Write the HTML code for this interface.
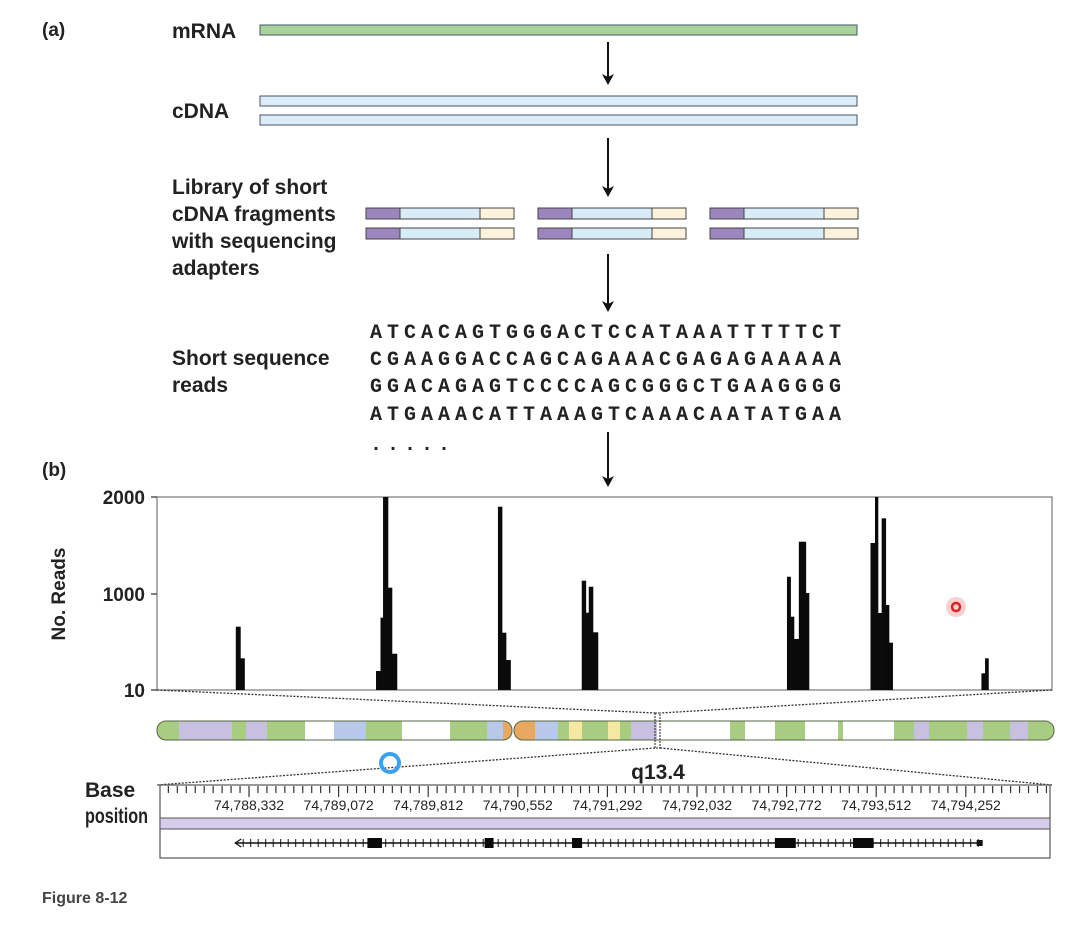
<!DOCTYPE html>
<html><head><meta charset="utf-8"><style>
body{margin:0;background:#fff;}
svg{display:block;font-family:"Liberation Sans",sans-serif;}
.lbl{font-weight:bold;font-size:19px;fill:#222;}
.big{font-size:21px;}
.seq{font-family:"Liberation Mono",monospace;font-weight:bold;font-size:20px;fill:#222;letter-spacing:5px;}
</style></head><body>
<svg id="fig" width="1076" height="928" viewBox="0 0 1076 928" xmlns="http://www.w3.org/2000/svg">
<g>
<text x="42" y="36" class="lbl">(a)</text>
<text x="172" y="38" class="lbl big">mRNA</text>
<rect x="260" y="25" width="597" height="10" fill="#a9d39b" stroke="#456" stroke-width="1"/>
<text x="172" y="118" class="lbl big">cDNA</text>
<rect x="260" y="96" width="597" height="10" fill="#dcecf8" stroke="#456"/>
<rect x="260" y="115" width="597" height="10" fill="#dcecf8" stroke="#456"/>
<g stroke="#111" stroke-width="2" fill="#111">
<line x1="608" y1="42" x2="608" y2="78"/><path d="M602,74 L608,85 L614,74 L608,77 Z" stroke="none"/>
<line x1="608" y1="138" x2="608" y2="190"/><path d="M602,186 L608,197 L614,186 L608,189 Z" stroke="none"/>
<line x1="608" y1="254" x2="608" y2="305"/><path d="M602,301 L608,312 L614,301 L608,304 Z" stroke="none"/>
<line x1="608" y1="432" x2="608" y2="480"/><path d="M602,476 L608,487 L614,476 L608,479 Z" stroke="none"/>
</g>
<text class="lbl big"><tspan x="172" y="194">Library of short</tspan><tspan x="172" y="221">cDNA fragments</tspan><tspan x="172" y="248">with sequencing</tspan><tspan x="172" y="275">adapters</tspan></text>
<g id="frags"></g>
<text class="lbl big"><tspan x="172" y="365">Short sequence</tspan><tspan x="172" y="392">reads</tspan></text>
<g class="seq">
<text x="370" y="338">ATCACAGTGGGACTCCATAAATTTTTCT</text>
<text x="370" y="365">CGAAGGACCAGCAGAAACGAGAGAAAAA</text>
<text x="370" y="392">GGACAGAGTCCCCAGCGGGCTGAAGGGG</text>
<text x="370" y="420">ATGAAACATTAAAGTCAAACAATATGAA</text>
<text x="370" y="450">.....</text>
</g>
</g>
<text x="42" y="476" class="lbl">(b)</text>
<g id="chart"></g>
<g id="chrom"></g>
<text x="658" y="779" text-anchor="middle" class="lbl big">q13.4</text>
<text class="lbl big"><tspan x="85" y="797">Base</tspan><tspan x="85" y="823" textLength="63" lengthAdjust="spacingAndGlyphs">position</tspan></text>
<g id="track"></g>
<circle cx="390" cy="763" r="9" fill="none" stroke="#3aa0f0" stroke-width="4"/>
<circle cx="956" cy="607" r="10" fill="#f5b0b0" opacity="0.6"/>
<circle cx="956" cy="607" r="4" fill="none" stroke="#e02020" stroke-width="2.5"/>
<text x="42" y="903" font-size="16" font-weight="bold" fill="#444">Figure 8-12</text>
</svg>
<script>
const NS="http://www.w3.org/2000/svg";
// chart data
const yTicks=[10,1000,2000];
const yTickLabels=["10","1000","2000"];
const barStart=[74788223,74788261,74789381,74789418,74789439,74789480,74789513,74790388,74790422,74790455,74791080,74791114,74791138,74791173,74792775,74792805,74792833,74792873,74792931,74793465,74793502,74793527,74793557,74793591,74793618,74794381,74794411];
const barEnd=[74788261,74788295,74789418,74789439,74789480,74789513,74789554,74790422,74790455,74790492,74791114,74791138,74791173,74791214,74792805,74792833,74792873,74792931,74792957,74793502,74793527,74793557,74793591,74793618,74793648,74794411,74794439];
const barReads=[663,337,206,756,2000,1065,384,1900,601,319,1137,807,1075,605,1178,766,536,1539,1010,1526,2000,804,1780,887,498,182,337];
const axisTickBases=[74788332,74789072,74789812,74790552,74791292,74792032,74792772,74793512,74794252];
const exonStart=[74789310,74790278,74791000,74792675,74793320];
const exonEnd=[74789430,74790352,74791083,74792848,74793490];
const geneStart=74788218, geneEnd=74794375;
const bandColors=["g","l","g","l","g","w","b","g","w","g","b","o","o","b","g","y","g","y","g","l","w","g","w","g","w","g","w","g","l","g","l","g","l","g"];
const bandEnds=[179,232,246,267,305,334,366,402,450,487,503,512,535,558,569,582,608,620,631,657,730,745,775,805,838,843,894,914,929,967,983,1010,1028,1052];

const PX0=157,PX1=1052,PY0=497,PY1=690;
const B0=74787572,B1=74794964;
function xB(b){return 249+(b-74788332)/740*89.6;}
function yV(v){ if(v>=1000) return 594-(v-1000)/1000*97; return 690-(v-10)/990*96;}
function mk(tag,attrs,parent){const e=document.createElementNS(NS,tag);for(const k in attrs)e.setAttribute(k,attrs[k]);parent.appendChild(e);return e;}

// fragments
const fr=document.getElementById('frags');
[366,538,710].forEach((x0,i)=>{[208,228].forEach((y,j)=>{
 let a=mk('rect',{x:x0,y:y,width:34,height:11,fill:'#9c86bd',stroke:'#444'},fr);
 
 
 let b=mk('rect',{x:x0+34,y:y,width:80,height:11,fill:'#d8ecf8',stroke:'#444'},fr);
 
 
 let c=mk('rect',{x:x0+114,y:y,width:34,height:11,fill:'#fdf3dc',stroke:'#444'},fr);
 
 
});});

// chart
const ch=document.getElementById('chart');
let fr2=mk('rect',{x:PX0,y:PY0,width:PX1-PX0,height:PY1-PY0,fill:'#fff',stroke:'#777','stroke-width':1.2},ch);


yTicks.forEach((t,i)=>{
 const y=yV(t);
 let l=mk('line',{x1:PX0-6,x2:PX0,y1:y,y2:y,stroke:'#555','stroke-width':1.5},ch);
 
 
 let tx=mk('text',{x:145,y:y+7,'text-anchor':'end','font-size':19,'font-weight':'bold',fill:'#222'},ch);
 tx.textContent=yTickLabels[i];
 
 
});
let yt=mk('text',{x:0,y:0,transform:'translate(65,594) rotate(-90)','text-anchor':'middle','font-size':19,'font-weight':'bold',fill:'#222'},ch);
yt.textContent='No. Reads';


barReads.forEach((v,i)=>{
 const x=xB(barStart[i]),w=xB(barEnd[i])-x,y=yV(v);
 let r=mk('rect',{x:x,y:y,width:w+0.3,height:PY1-y,fill:'#0a0a0a'},ch);
 
 
});

// chromosome
const cr=document.getElementById('chrom');
const col={g:'#a8cc80',l:'#c8c0e0',w:'#ffffff',b:'#b8c8e8',o:'#e8a860',y:'#f5e8a0'};
const clip=mk('clipPath',{id:'chclip'},cr);
mk('rect',{x:157,y:721,width:355,height:19,rx:9},clip);
mk('rect',{x:514,y:721,width:540,height:19,rx:9},clip);
const bg=mk('g',{'clip-path':'url(#chclip)'},cr);
let prev=155;
bandColors.forEach((c,i)=>{
 let r=mk('rect',{x:prev,y:720,width:bandEnds[i]-prev+2,height:21,fill:col[c]},bg);
 
 
 prev=bandEnds[i];
});
mk('rect',{x:157,y:721,width:355,height:19,rx:9,fill:'none',stroke:'#556644'},cr);
mk('rect',{x:514,y:721,width:540,height:19,rx:9,fill:'none',stroke:'#556644'},cr);
mk('rect',{x:655,y:713,width:5,height:35,fill:'none',stroke:'#222','stroke-dasharray':'2,1'},cr);
[[157,690,655,713],[1052,690,660,713],[655,748,157,785],[660,748,1052,785]].forEach(p=>{
 let l=mk('line',{x1:p[0],y1:p[1],x2:p[2],y2:p[3],stroke:'#333','stroke-width':1.3,'stroke-dasharray':'2,1.5'},cr);
 
 
});

// base track
const tr=document.getElementById('track');
mk('rect',{x:160,y:785,width:890,height:73,fill:'#fff',stroke:'#555','stroke-width':1.2},tr);
mk('rect',{x:160,y:818,width:890,height:11,fill:'#d6cdec',stroke:'#555'},tr);
for(let b=74788332-740;b<=B1;b+=74){const x=xB(b);if(x<161||x>1049)continue;
 const major=((b-74788332)%740===0);
 mk('line',{x1:x,x2:x,y1:786,y2:major?797:793,stroke:'#333','stroke-width':1.2},tr);}
axisTickBases.forEach(b=>{
 let t=mk('text',{x:xB(b),y:810,'text-anchor':'middle','font-size':14,fill:'#222'},tr);
 t.textContent=b.toLocaleString('en-US');
 
 
});
const gx0=xB(geneStart),gx1=xB(geneEnd);
mk('line',{x1:gx0,x2:gx1,y1:843,y2:843,stroke:'#111','stroke-width':1.5},tr);
mk('path',{d:`M${gx0+6},839 L${gx0},843 L${gx0+6},847`,fill:'none',stroke:'#111','stroke-width':1.2},tr);
for(let x=gx0+8;x<gx1;x+=7.5){mk('line',{x1:x,x2:x,y1:839,y2:847,stroke:'#111','stroke-width':1},tr);}
mk('rect',{x:gx1-4,y:840,width:6,height:6,fill:'#111'},tr);
exonStart.forEach((s,i)=>{
 let r=mk('rect',{x:xB(s),y:838,width:xB(exonEnd[i])-xB(s),height:10,fill:'#0a0a0a'},tr);
 
 
});
</script>
</body></html>
